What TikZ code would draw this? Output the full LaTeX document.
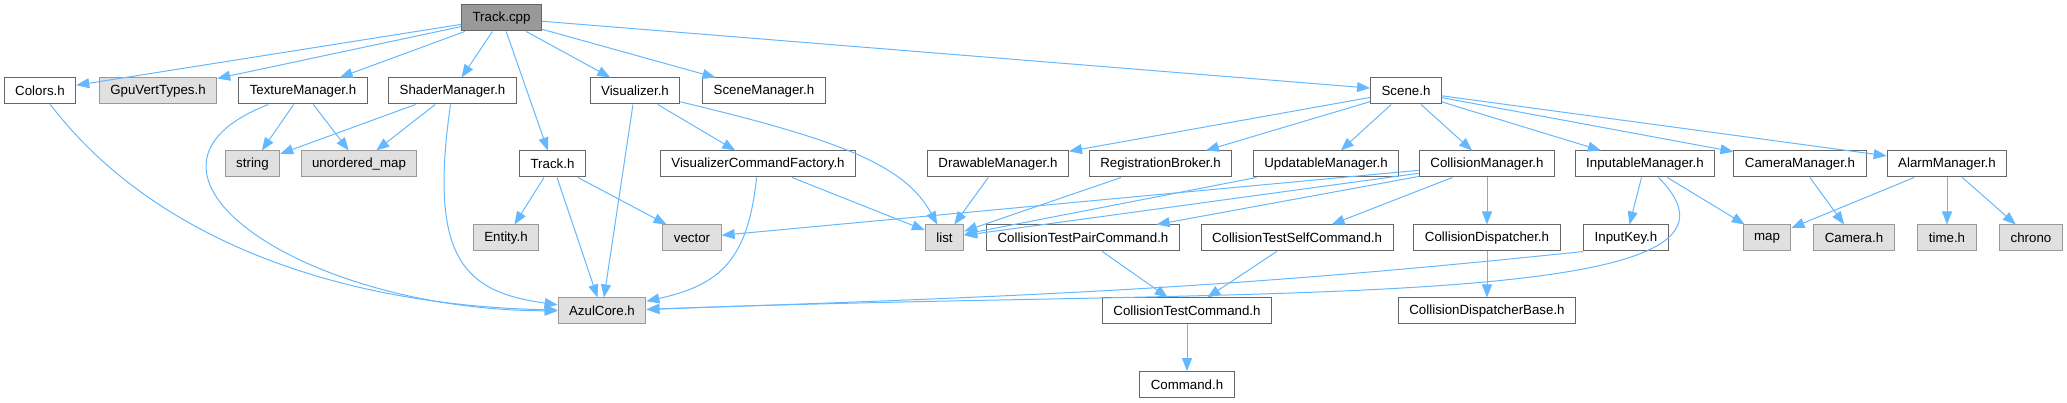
\documentclass[tikz,border=0pt]{standalone}
\usepackage{fontspec}
\setmainfont{Liberation Sans}
\usepackage{tikz}
\usetikzlibrary{positioning}
\usetikzlibrary{arrows.meta}

\definecolor{edgeblue}{HTML}{63B8FF}
\definecolor{boxline}{HTML}{666666}
\definecolor{sysline}{HTML}{999999}
\definecolor{sysfill}{HTML}{E0E0E0}
\definecolor{srcfill}{HTML}{999999}

\begin{document}
\begin{tikzpicture}[on grid,
    hdr/.style={draw=boxline, fill=white, line width=1pt, minimum height=26pt,
      inner xsep=11pt, inner ysep=0pt, font=\fontsize{13.3pt}{16pt}\selectfont},
    sys/.style={hdr, draw=sysline, fill=sysfill},
    src/.style={hdr, fill=srcfill},
    inc/.style={draw, edgeblue, line width=1pt, -{Triangle[length=13pt,width=10pt]}}]
    \useasboundingbox (0,0) rectangle (2067pt,-403pt);

    % file principale
    \node [src] (track) at (501.5pt,-18pt) {Track.cpp};

    \node [hdr, below left=73pt and 461.5pt of track] (colors) {Colors.h};
    \node [sys, right=118pt of colors] (gpu) {GpuVertTypes.h};
    \node [hdr, right=145pt of gpu] (texmgr) {TextureManager.h};
    \node [hdr, right=149.5pt of texmgr] (shadermgr) {ShaderManager.h};
    \node [hdr, right=182.5pt of shadermgr] (visualizer) {Visualizer.h};
    \node [hdr, right=129pt of visualizer] (scenemgr) {SceneManager.h};
    \node [hdr, right=642pt of scenemgr] (scene) {Scene.h};

    \node [sys, below left=73pt and 50.5pt of texmgr] (string) {string};
    \node [sys, right=106.5pt of string] (umap) {unordered\_map};
    \node [hdr, right=193.5pt of umap] (trackh) {Track.h};
    \node [hdr, right=205.5pt of trackh] (vcf) {VisualizerCommandFactory.h};
    \node [hdr, right=240pt of vcf] (drawable) {DrawableManager.h};
    \node [hdr, right=162.5pt of drawable] (regbroker) {RegistrationBroker.h};
    \node [hdr, right=165.5pt of regbroker] (updatable) {UpdatableManager.h};
    \node [hdr, right=161pt of updatable] (collmgr) {CollisionManager.h};
    \node [hdr, right=158pt of collmgr] (inputmgr) {InputableManager.h};
    \node [hdr, right=155pt of inputmgr] (cameramgr) {CameraManager.h};
    \node [hdr, right=147pt of cameramgr] (alarmmgr) {AlarmManager.h};

    \node [sys, below left=74pt and 46.5pt of trackh] (entity) {Entity.h};
    \node [sys, right=186pt of entity] (vector) {vector};
    \node [sys, right=252.5pt of vector] (list) {list};
    \node [hdr, right=138.5pt of list] (ctpair) {CollisionTestPairCommand.h};
    \node [hdr, right=214pt of ctpair] (ctself) {CollisionTestSelfCommand.h};
    \node [hdr, right=190pt of ctself] (colldisp) {CollisionDispatcher.h};
    \node [hdr, right=139pt of colldisp] (inputkey) {InputKey.h};
    \node [sys, right=141pt of inputkey] (map) {map};
    \node [sys, right=87pt of map] (camera) {Camera.h};
    \node [sys, right=93pt of camera] (timeh) {time.h};
    \node [sys, right=84pt of timeh] (chrono) {chrono};

    \node [sys, below right=73pt and 96pt of entity] (azul) {AzulCore.h};
    \node [hdr, right=585pt of azul] (ctcmd) {CollisionTestCommand.h};
    \node [hdr, below=73pt of colldisp] (cdbase) {CollisionDispatcherBase.h};
    \node [hdr, below=73.5pt of ctcmd] (command) {Command.h};

    % include diretti
    \path[inc] (track) edge (colors) edge (gpu) edge (texmgr) edge (shadermgr)
      edge (trackh) edge (visualizer) edge (scenemgr) edge (scene);
    \path[inc] (texmgr) edge (string) edge (umap);
    \path[inc] (shadermgr) edge (string) edge (umap);
    \path[inc] (trackh) edge (entity) edge (vector) edge (azul);
    \path[inc] (visualizer) edge (azul) edge (vcf);
    \path[inc] (vcf) edge (list);
    \path[inc] (scene) edge (drawable) edge (regbroker) edge (updatable) edge (collmgr)
      edge (inputmgr) edge (cameramgr) edge (alarmmgr);
    \path[inc] (drawable) edge (list);
    \path[inc] (regbroker) edge (list);
    \path[inc] (updatable) edge (list);
    \path[inc] (collmgr) edge (list) edge (vector) edge (ctpair) edge (ctself) edge (colldisp);
    \path[inc] (inputmgr) edge (inputkey) edge (map);
    \path[inc] (cameramgr) edge (camera);
    \path[inc] (alarmmgr) edge (map) edge (timeh) edge (chrono);
    \path[inc] (ctpair) edge (ctcmd);
    \path[inc] (ctself) edge (ctcmd);
    \path[inc] (ctcmd) edge (command);
    \path[inc] (colldisp) edge (cdbase);

    % archi curvi
    \draw[inc] (colors) .. controls +(110pt,-144pt) and +(-272pt,6pt) .. (azul);
    \draw[inc] (texmgr) .. controls +(-203pt,-79pt) and +(-302pt,1pt) .. (azul);
    \draw[inc] (shadermgr) .. controls +(-24.5pt,-169pt) and +(-137pt,19pt) .. (azul);
    \draw[inc] (vcf) .. controls +(-10pt,-96pt) and +(118pt,26pt) .. (azul);
    \draw[inc] (visualizer) .. controls +(205pt,-49pt) and +(-39.5pt,73pt) .. (list);
    \draw[inc] (inputmgr) .. controls +(150pt,-150pt) and +(648pt,24pt) .. (azul);
    \draw[inc] (inputkey.south west) to[out=-174, in=2] (azul);
\end{tikzpicture}
\end{document}
